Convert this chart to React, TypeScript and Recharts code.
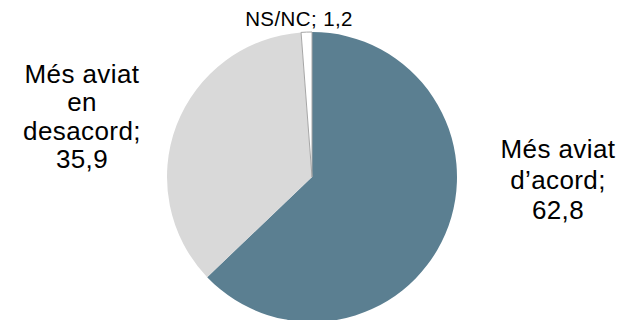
import { PieChart, Pie, Cell } from 'recharts';

const categories = ['Més aviat d’acord', 'Més aviat en desacord', 'NS/NC'];
const values = [62.8, 35.9, 1.2];
// label text split into lines as in the original
const labelLines = [
  ['Més aviat', 'd’acord;', '62,8'],
  ['Més aviat', 'en', 'desacord;', '35,9'],
  ['NS/NC; 1,2'],
];

const COLORS = ['#5b7f91', '#d9d9d9', '#ffffff'];
const STROKES = ['none', 'none', '#a6a6a6'];

// label anchor relative to pie centre: x of text centre, y of first baseline
const LABEL_POS = [
  { dx: 246, dy: -19, size: 26, lh: 30.5 },
  { dx: -230, dy: -94, size: 26, lh: 28.3 },
  { dx: -13, dy: -151, size: 20.5, lh: 22 },
];

const data = categories.map((name, i) => ({ name, value: values[i] }));

function renderLabel(props: any) {
  const { cx, cy, index } = props;
  const pos = LABEL_POS[index];
  const lines = labelLines[index];
  return (
    <text
      x={cx + pos.dx}
      y={cy + pos.dy}
      textAnchor="middle"
      fill="#000"
      fontSize={pos.size}
      fontFamily="'Liberation Sans', Arial, sans-serif"
      letterSpacing={0.4}
    >
      {lines.map((line, i) => (
        <tspan key={i} x={cx + pos.dx} dy={i === 0 ? 0 : pos.lh}>
          {line}
        </tspan>
      ))}
    </text>
  );
}

export default function App() {
  return (
    <div style={{ position: 'absolute', left: 0, top: 0, background: '#fff' }}>
      <PieChart width={638} height={320} margin={{ top: 0, right: 0, bottom: 0, left: 0 }}>
        <Pie
          data={data}
          dataKey="value"
          nameKey="name"
          cx={312}
          cy={177}
          outerRadius={145}
          startAngle={90}
          endAngle={-270}
          label={renderLabel}
          labelLine={false}
          isAnimationActive={false}
        >
          {data.map((d, i) => (
            <Cell key={d.name} fill={COLORS[i]} stroke={STROKES[i]} strokeWidth={1} />
          ))}
        </Pie>
      </PieChart>
    </div>
  );
}
